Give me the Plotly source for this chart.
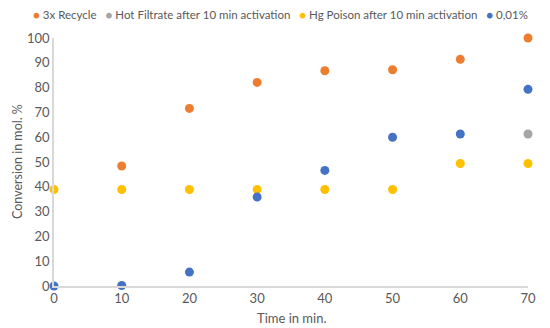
import plotly.graph_objects as go

time = [0, 10, 20, 30, 40, 50, 60, 70]
recycle_x = [10, 20, 30, 40, 50, 60, 70]
recycle_y = [48.4, 71.6, 82.1, 86.8, 87.2, 91.4, 100]
hot_x = [70]
hot_y = [61.3]
hg_x = time
hg_y = [38.9, 38.9, 38.9, 38.9, 38.9, 38.9, 49.4, 49.4]
low_x = time
low_y = [0, 0.2, 5.6, 35.9, 46.6, 60.0, 61.3, 79.3]

series = [
    ("3x Recycle", recycle_x, recycle_y, "#ED7D31"),
    ("Hot Filtrate after 10 min activation", hot_x, hot_y, "#A5A5A5"),
    ("Hg Poison after 10 min activation", hg_x, hg_y, "#FFC000"),
    ("0,01%", low_x, low_y, "#4472C4"),
]

font = "Lato, Liberation Sans, sans-serif"
fig = go.Figure()
for name, xs, ys, c in series:
    fig.add_trace(go.Scatter(x=xs, y=ys, mode="markers", name=name,
                             marker=dict(color=c, size=9), cliponaxis=False,
                             showlegend=False))

legend_text = "   ".join(
    f"<span style='color:{c}'>●</span> {name}" for name, _, _, c in series
)
fig.add_annotation(text=legend_text, xref="paper", yref="paper", x=0.477, y=1.093,
                   xanchor="center", yanchor="middle", showarrow=False,
                   font=dict(family=font, size=11.5, color="#595959"))
fig.add_annotation(text="Time in min.", xref="paper", yref="paper", x=0.5, y=-0.129,
                   xanchor="center", yanchor="middle", showarrow=False,
                   font=dict(family=font, size=13, color="#595959"))
fig.add_annotation(text="Conversion in mol. %", xref="paper", yref="paper", x=-0.078, y=0.5,
                   xanchor="center", yanchor="middle", showarrow=False, textangle=-90,
                   font=dict(family=font, size=12.5, color="#595959"))

fig.update_layout(
    width=550, height=328,
    margin=dict(l=46, r=30, t=30, b=50),
    plot_bgcolor="white", paper_bgcolor="white",
    font=dict(family=font, color="#595959", size=13),
    showlegend=False,
    xaxis=dict(range=[0, 70], tickvals=time, showgrid=False, zeroline=False,
               showline=True, linecolor="#D9D9D9", linewidth=1.5,
               ticks="", tickfont=dict(size=13)),
    yaxis=dict(range=[0, 100], tickvals=list(range(0, 101, 10)), showgrid=False,
               zeroline=False, showline=True, linecolor="#D9D9D9", linewidth=1.5,
               ticks="", tickfont=dict(size=13)),
)
fig.write_html("out.html")
